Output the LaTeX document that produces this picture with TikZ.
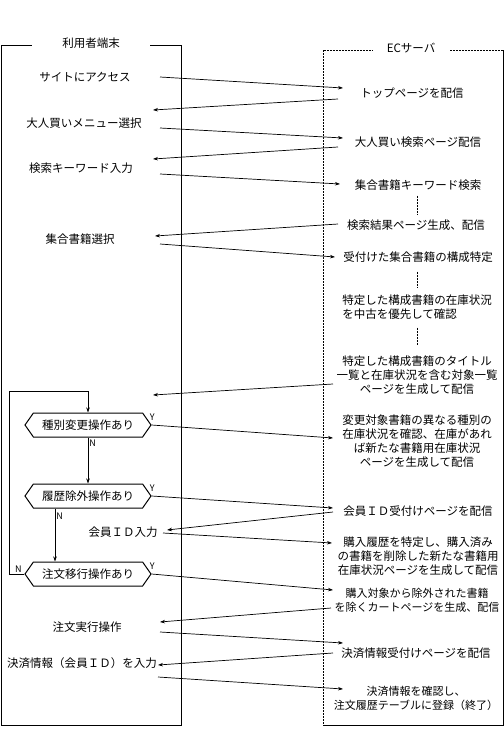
\documentclass[tikz,border=0pt]{standalone}
\usepackage{fontspec}
\setmainfont{Noto Sans CJK JP}
\usepackage{tikz}
\usetikzlibrary{shapes.symbols,arrows.meta}

\begin{document}
\begin{tikzpicture}[x=1bp, y=-1bp, >={Stealth[length=5bp,width=3.5bp]},
  txt/.style={font=\fontsize{11.5bp}{14bp}\selectfont, inner sep=1bp, align=center},
  small/.style={txt, font=\fontsize{11bp}{14bp}\selectfont},
  msg/.style={->, line width=0.7bp},
  dsh/.style={dash pattern=on 2bp off 1bp, line width=0.7bp},
  hexa/.style={draw, line width=1bp, signal, signal to=east and west,
    signal pointer angle=110, minimum width=126bp, minimum height=24bp, txt},
  yn/.style={font=\fontsize{9bp}{9bp}\selectfont, inner sep=1bp}]

\useasboundingbox (0,0) rectangle (504,756);

% lanes
\draw[line width=0.8bp] (1,45) rectangle (181,725);
\draw[dsh] (503,50) -- (323,50) -- (323,725);
\draw[line width=0.8bp] (323,725) -- (503,725) -- (503,50);
\node[txt, fill=white, minimum width=117bp] (user) at (91,43) {利用者端末};
\node[txt, fill=white, minimum width=77bp] (server) at (411,48) {ECサーバ};

% terminal side
\node[txt] (acc) at (85,77) {サイトにアクセス};
\node[txt] (menu) at (84,123) {大人買いメニュー選択};
\node[txt] (kw) at (81,168) {検索キーワード入力};
\node[txt] (sel) at (80,239) {集合書籍選択};
\node[hexa] (hex1) at (88,425) {種別変更操作あり};
\node[hexa] (hex2) at (88,496) {履歴除外操作あり};
\node[txt] (mid) at (123,532) {会員ＩＤ入力};
\node[hexa] (hex3) at (88,574) {注文移行操作あり};
\node[txt] (ord) at (87,627) {注文実行操作};
\node[txt] (pay) at (82,663) {決済情報（会員ＩＤ）を入力};

% server side
\node[txt] (top) at (412,93) {トップページを配信};
\node[txt] (srch) at (418,142) {大人買い検索ページ配信};
\node[txt] (kws) at (418,185) {集合書籍キーワード検索};
\node[txt] (res) at (416,225) {検索結果ページ生成、配信};
\node[txt] (comp) at (418,257) {受付けた集合書籍の構成特定};
\node[txt, align=left] (stock) at (417,307) {特定した構成書籍の在庫状況\\を中古を優先して確認};
\node[txt] (list) at (417,375) {特定した構成書籍のタイトル\\一覧と在庫状況を含む対象一覧\\ページを生成して配信};
\node[txt] (chg) at (417,441) {変更対象書籍の異なる種別の\\在庫状況を確認、在庫があれ\\ば新たな書籍用在庫状況\\ページを生成して配信};
\node[txt] (idp) at (418,511) {会員ＩＤ受付けページを配信};
\node[txt] (hist) at (418,556) {購入履歴を特定し、購入済み\\の書籍を削除した新たな書籍用\\在庫状況ページを生成して配信};
\node[small] (cart) at (417,600) {購入対象から除外された書籍\\を除くカートページを生成、配信};
\node[txt] (payp) at (416,653) {決済情報受付けページを配信};
\node[small] (fin) at (416,698) {決済情報を確認し、\\注文履歴テーブルに登録（終了）};

\draw[dsh] ([shift={(-1,4)}]kws.south) -- ([shift={(1,-4)}]res.north);
\draw[dsh] ([shift={(-1,8)}]comp.south) -- ([shift={(0,-5)}]stock.north);
\draw[dsh] ([shift={(0,7)}]stock.south) -- ([shift={(0,-9)}]list.north);

% messages
\draw[msg] ([shift={(75,0)}]acc.center) -- ([shift={(-69,-5)}]top.center);
\draw[msg] ([shift={(-74,6)}]top.center) -- ([shift={(69,-13)}]menu.center);
\draw[msg] ([shift={(76,5)}]menu.center) -- ([shift={(-75,-4)}]srch.center);
\draw[msg] ([shift={(-80,5)}]srch.center) -- ([shift={(72,-9)}]kw.center);
\draw[msg] ([shift={(79,6)}]kw.center) -- ([shift={(-78,-1)}]kws.center);
\draw[msg] ([shift={(-78,-1)}]res.center) -- ([shift={(75,-3)}]sel.center);
\draw[msg] ([shift={(80,5)}]sel.center) -- ([shift={(-83,0)}]comp.center);
\draw[msg] ([shift={(-84,9)}]list.center) -- ([shift={(65,-30)}]hex1.center);
\draw[msg] (hex1.east) -- ([shift={(-84,-3)}]chg.center);
\draw[msg] (hex2.east) -- ([shift={(-85,-3)}]idp.center);
\draw[msg] ([shift={(-85,1)}]idp.center) -- ([shift={(44,-2)}]mid.center);
\draw[msg] ([shift={(40,1)}]mid.center) -- ([shift={(-86,-13)}]hist.center);
\draw[msg] (hex3.east) -- ([shift={(-84,-10)}]cart.center);
\draw[msg] ([shift={(-86,8)}]cart.center) -- ([shift={(73,-5)}]ord.center);
\draw[msg] ([shift={(73,5)}]ord.center) -- ([shift={(-73,-10)}]payp.center);
\draw[msg] ([shift={(-83,0)}]payp.center) -- ([shift={(76,2)}]pay.center);
\draw[msg] ([shift={(76,14)}]pay.center) -- ([shift={(-73,-9)}]fin.center);

% decision flow
\coordinate (loopc) at (9,391);
\draw[msg] (hex3.west) -| (loopc) -| (hex1.north);
\draw[msg] (hex1.south) -- (hex2.north) node[pos=0.12, right, yn] {N};
\draw[msg] ([xshift=-33bp]hex2.south) -- ([xshift=-33bp]hex3.north) node[pos=0.14, right, yn] {N};
\node[yn, anchor=south] at ([xshift=-6bp]hex3.west) {N};
\node[yn, anchor=south west] at ([shift={(-3,-3)}]hex1.east) {Y};
\node[yn, anchor=south west] at ([shift={(-3,-3)}]hex2.east) {Y};
\node[yn, anchor=south west] at ([shift={(-3,-3)}]hex3.east) {Y};

\end{tikzpicture}
\end{document}
